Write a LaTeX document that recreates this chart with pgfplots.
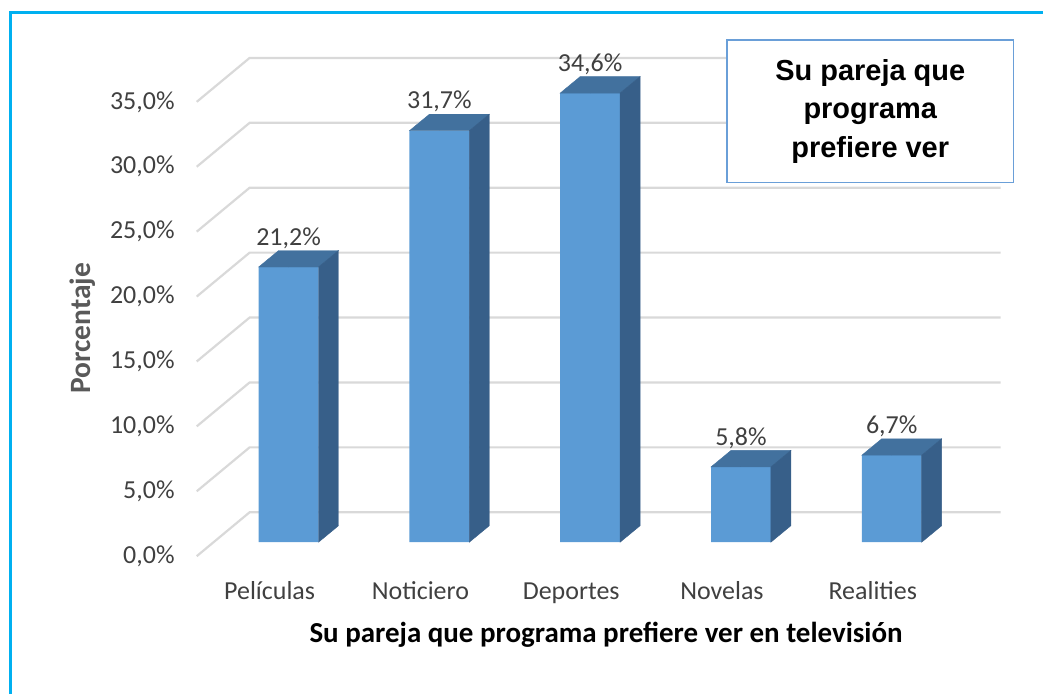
\documentclass[border=0pt]{standalone}
\usepackage{pgfplots}
\pgfplotsset{compat=1.18}
\usepackage{pgfplotstable}
\usepackage{fontspec}
\setmainfont{Carlito}
\newfontfamily\arialf{Liberation Sans}
\definecolor{frontc}{RGB}{91,155,213}
\definecolor{topc}{RGB}{66,113,158}
\definecolor{sidec}{RGB}{55,95,137}
\definecolor{gridc}{RGB}{217,217,217}
\definecolor{framec}{RGB}{0,176,240}
\definecolor{boxc}{RGB}{106,159,216}
\definecolor{txt}{RGB}{64,64,64}
\definecolor{ylab}{RGB}{89,89,89}

\pgfplotstableread{
x y
0 21.2
1 31.7
2 34.6
3 5.8
4 6.7
}\datatab

\begin{document}
\begin{tikzpicture}
\begin{axis}[
  scale only axis, width=1044pt, height=695pt,
  xmin=-1.91391, xmax=5.0, ymin=-11.6923, ymax=41.7692,
  clip=false,
  axis line style={draw=none}, tick style={draw=none},
  /pgf/number format/assume math mode=true,
  xtick={0,...,4},
  xticklabels={Películas,Noticiero,Deportes,Novelas,Realities},
  xticklabel style={anchor=base, inner sep=0pt, yshift=95pt, xshift=-19pt,
    font=\fontsize{26}{30}\selectfont, text=txt},
  ytick={0,5,...,35},
  yticklabel={\pgfmathprintnumber[fixed,fixed zerofill,precision=1,use comma]{\tick}\%},
  yticklabel style={anchor=east, inner sep=0pt, xshift=175pt, yshift=-14pt,
    font=\fontsize{26}{30}\selectfont, text=txt},
  xlabel={Su pareja que programa prefiere ver en televisión},
  xlabel style={at={(rel axis cs:0.5814,0.0849)}, anchor=center, inner sep=0pt,
    font=\bfseries\fontsize{29}{34}\selectfont, text=black},
  ylabel={Porcentaje},
  ylabel style={at={(rel axis cs:0.0795,0.527)}, anchor=center, rotate=0, inner sep=0pt,
    font=\bfseries\fontsize{29.5}{34}\selectfont, text=ylab},
]
\pgfplotsinvokeforeach{0,5,...,35}{
  \draw[gridc, line width=2.2pt] (axis cs:-0.6093,#1-1.077) -- (axis cs:-0.2583,#1+2.308) -- (axis cs:4.722,#1+2.308);
}
\addplot[ybar, bar width=0.397, fill=frontc, draw=none, point meta=y,
  nodes near coords={\pgfmathprintnumber[fixed,fixed zerofill,precision=1,use comma]{\pgfplotspointmeta}\%},
  nodes near coords style={anchor=center, yshift=29pt, font=\fontsize{26}{30}\selectfont, text=txt}]
  table[x=x,y=y] {\datatab};
\addplot[scatter, only marks, mark=*, mark size=0pt, mark options={draw=none,fill=none},
  visualization depends on={y \as \yval},
  scatter/@pre marker code/.code={
    \pgfmathsetmacro\ybot{1.27-\yval}
    \pgfmathsetmacro\yfr{-\yval}
    \fill[topc] (axis direction cs:-0.1985,0) -- (axis direction cs:-0.066,1.27) -- (axis direction cs:0.331,1.27) -- (axis direction cs:0.1985,0) -- cycle;
    \fill[sidec] (axis direction cs:0.1985,0) -- (axis direction cs:0.331,1.27) -- (axis direction cs:0.331,\ybot) -- (axis direction cs:0.1985,\yfr) -- cycle;
  },
  scatter/@post marker code/.code={}]
  table[x=x,y=y] {\datatab};
\node[draw=boxc, line width=1.5pt, fill=white, minimum width=287pt, minimum height=143pt,
  align=center, inner sep=0pt, font=\arialf\bfseries\fontsize{29}{38.5}\selectfont]
  at (rel axis cs:0.8348,0.8396) {Su pareja que\\programa\\prefiere ver};
\draw[framec, line width=3pt] (rel axis cs:0.01006,0) -- (rel axis cs:0.01006,0.9820) -- (rel axis cs:1,0.9820);
\end{axis}
\end{tikzpicture}
\end{document}
